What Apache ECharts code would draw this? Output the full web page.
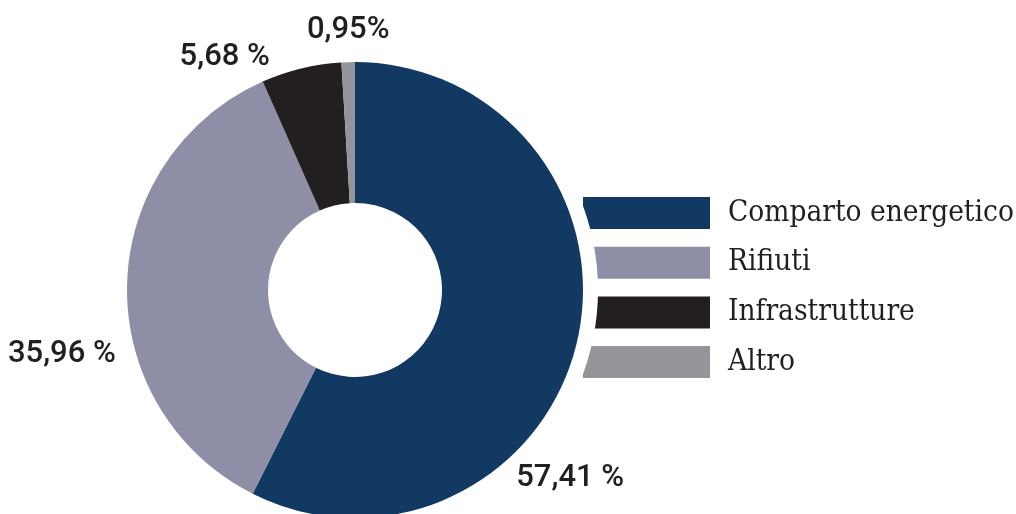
<!DOCTYPE html>
<html>
<head>
<meta charset="utf-8">
<script src="https://cdn.jsdelivr.net/npm/echarts@6/dist/echarts.min.js"></script>
<style>html,body{margin:0;padding:0;background:#fff}#c{width:1016px;height:514px}</style>
</head>
<body>
<div id="c"></div>
<script>
const categories = ['Comparto energetico', 'Rifiuti', 'Infrastrutture', 'Altro'];
const values = [57.41, 35.96, 5.68, 0.95];
const labelTexts = ['57,41 %', '35,96 %', '5,68 %', '0,95%'];
const colors = ['#123962', '#8e8fa7', '#231f20', '#939598'];

// label placement (angle clockwise from top in degrees, distance from centre in px)
const labelPlace = [[131.2, 286], [257.7, 300], [330.8, 267], [358.5, 260]];
const CX = 355, CY = 290, R_IN = 87, R_OUT = 228;

const chart = echarts.init(document.getElementById('c'), null, {renderer: 'canvas'});
chart.setOption({
  backgroundColor: '#ffffff',
  animation: false,
  legend: {
    data: categories,
    orient: 'vertical',
    left: 578,
    top: 192,
    icon: 'rect',
    itemWidth: 127,
    itemHeight: 32,
    itemGap: 17.7,
    selectedMode: false,
    z: 4,
    textStyle: {
      fontFamily: 'DejaVu Serif Condensed, DejaVu Serif, serif',
      fontSize: 29.5,
      color: '#231f20',
      lineHeight: 32,
      padding: [0, 0, 0, 13]
    }
  },
  series: [
    {
      type: 'pie',
      z: 20,
      center: [CX, CY],
      radius: [R_IN, R_OUT],
      startAngle: 90,
      clockwise: true,
      silent: true,
      avoidLabelOverlap: false,
      data: categories.map((n, i) => ({name: n, value: values[i], itemStyle: {color: colors[i]}})),
      label: {
        show: true,
        position: 'outside',
        formatter: p => labelTexts[p.dataIndex],
        fontFamily: 'Roboto, Lato, sans-serif',
        fontWeight: 500,
        fontSize: 31,
        color: '#231f20'
      },
      labelLine: {show: false},
      labelLayout: function (p) {
        const pl = labelPlace[p.dataIndex];
        const a = pl[0] * Math.PI / 180;
        return {
          x: CX + pl[1] * Math.sin(a),
          y: CY - pl[1] * Math.cos(a),
          align: 'center',
          verticalAlign: 'middle'
        };
      }
    },
    {
      type: 'pie',
      z: 10,
      center: [CX, CY],
      radius: [R_OUT, 243],
      silent: true,
      label: {show: false},
      labelLine: {show: false},
      data: [{name: '_ring', value: 1, itemStyle: {color: '#ffffff'}}]
    }
  ]
});
</script>
</body>
</html>
